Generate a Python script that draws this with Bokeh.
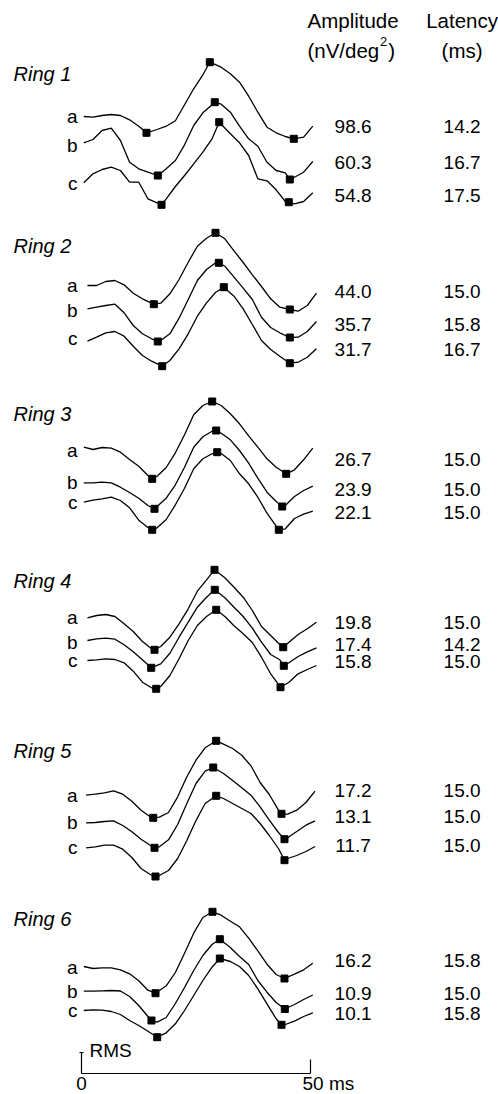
from bokeh.plotting import figure
from bokeh.models import Range1d
from bokeh.embed import file_html
from bokeh.resources import INLINE
from bokeh.core.properties import value

# ---------------- data ----------------
rings = ["Ring 1", "Ring 2", "Ring 3", "Ring 4", "Ring 5", "Ring 6"]
trace_names = ["a", "b", "c"]

amplitude = [["98.6", "60.3", "54.8"], ["44.0", "35.7", "31.7"], ["26.7", "23.9", "22.1"],
             ["19.8", "17.4", "15.8"], ["17.2", "13.1", "11.7"], ["16.2", "10.9", "10.1"]]
latency = [["14.2", "16.7", "17.5"], ["15.0", "15.8", "16.7"], ["15.0", "15.0", "15.0"],
           ["15.0", "14.2", "15.0"], ["15.0", "15.0", "15.0"], ["15.8", "15.0", "15.8"]]

# sampling: first sample time (ms) per ring, 2 ms step, 26 samples
ring_t0 = [0.5, 1.3, 0.5, 1.3, 1.0, 0.5]
step_ms = 2.0
n_samples = 26

# waveforms (vertical position on the page scale, downward)
r1a = [116.0, 116.7, 115.0, 114.0, 115.0, 119.3, 125.7, 131.5, 129.0, 125.7, 120.3, 104.3, 88.3, 74.3, 62.5, 66.7, 73.3, 81.7, 95.7, 111.7, 126.7, 132.3, 136.0, 138.0, 136.7, 125.7]
r1b = [142.3, 139.0, 130.0, 127.7, 140.0, 161.7, 168.3, 171.7, 174.7, 168.3, 160.0, 144.3, 125.0, 112.3, 104.3, 103.7, 111.7, 125.7, 138.3, 145.7, 161.7, 170.0, 172.3, 176.7, 171.7, 161.0]
r1c = [182.3, 173.3, 169.0, 166.7, 170.0, 181.7, 181.7, 198.3, 202.3, 198.3, 186.0, 175.0, 163.3, 151.7, 138.3, 122.7, 133.3, 142.3, 155.0, 178.3, 180.3, 189.3, 201.0, 203.3, 201.0, 192.3]
r2a = [285.0, 285.0, 281.0, 280.0, 284.3, 292.7, 298.3, 302.7, 302.7, 293.3, 279.0, 261.7, 245.7, 237.7, 232.3, 238.3, 250.3, 262.0, 274.3, 286.0, 298.3, 306.7, 309.0, 310.7, 305.0, 292.7]
r2b = [308.3, 306.7, 305.0, 303.7, 312.3, 325.0, 333.3, 338.3, 340.0, 333.3, 317.7, 299.0, 280.0, 269.0, 262.3, 265.7, 276.7, 287.7, 299.0, 316.7, 327.0, 332.3, 336.7, 336.7, 331.0, 321.0]
r2c = [340.7, 336.7, 332.3, 331.0, 335.7, 345.7, 355.0, 360.7, 365.0, 360.0, 348.3, 333.3, 315.7, 302.3, 291.7, 287.3, 295.7, 308.3, 324.0, 340.0, 349.0, 355.7, 362.3, 361.7, 356.7, 348.3]
r3a = [446.7, 449.0, 447.0, 447.7, 451.7, 459.0, 465.7, 475.0, 475.7, 467.0, 452.3, 434.3, 414.3, 405.0, 401.0, 405.0, 413.3, 423.3, 435.3, 446.7, 458.3, 466.7, 472.7, 469.3, 459.3, 447.7]
r3b = [482.3, 482.3, 481.7, 482.3, 486.7, 492.0, 497.7, 505.0, 507.7, 497.7, 484.3, 466.7, 446.7, 436.3, 430.7, 432.7, 439.3, 450.0, 462.7, 477.7, 491.7, 501.0, 505.0, 496.0, 490.0, 485.7]
r3c = [501.7, 499.7, 498.3, 496.7, 500.0, 507.3, 519.7, 527.0, 527.3, 519.0, 504.3, 487.7, 468.3, 458.3, 453.3, 453.0, 460.0, 473.3, 483.3, 496.7, 512.7, 525.7, 528.3, 518.0, 513.7, 510.7]
r4a = [617.3, 615.0, 614.0, 616.0, 623.3, 631.0, 641.0, 648.3, 646.0, 636.7, 623.3, 608.3, 590.7, 579.3, 570.0, 577.3, 586.7, 596.7, 610.0, 626.0, 635.0, 644.0, 641.7, 634.0, 628.3, 621.7]
r4b = [640.0, 638.3, 637.7, 638.7, 644.3, 651.3, 659.3, 667.3, 663.3, 652.7, 636.7, 621.7, 606.7, 596.7, 590.0, 597.3, 606.7, 616.0, 627.7, 641.7, 654.0, 659.3, 662.3, 656.0, 651.3, 647.3]
r4c = [660.0, 659.3, 658.3, 659.0, 662.3, 670.7, 681.7, 687.3, 686.0, 675.0, 658.3, 640.0, 625.0, 616.0, 609.3, 616.0, 625.3, 633.3, 642.0, 656.7, 673.3, 686.0, 681.7, 673.3, 669.0, 665.0]
r5a = [794.7, 793.7, 792.3, 790.3, 793.7, 800.7, 809.7, 816.3, 816.7, 812.0, 796.3, 776.3, 759.7, 747.3, 740.7, 743.7, 748.0, 754.7, 765.3, 782.0, 794.0, 809.7, 813.7, 809.7, 802.0, 790.7]
r5b = [822.3, 822.0, 821.0, 820.3, 825.0, 831.3, 838.7, 844.7, 846.3, 839.3, 824.0, 803.0, 783.0, 770.7, 767.3, 773.0, 780.0, 787.3, 794.7, 806.3, 819.7, 832.0, 837.3, 831.0, 824.7, 820.3]
r5c = [847.3, 846.3, 844.7, 844.7, 848.7, 857.0, 868.0, 874.0, 875.0, 870.0, 858.0, 840.0, 820.0, 803.0, 796.0, 798.0, 803.0, 808.0, 813.0, 823.0, 835.0, 848.0, 858.0, 855.0, 851.0, 846.0]
r6a = [966.0, 968.0, 967.3, 967.3, 969.3, 973.3, 980.3, 989.7, 992.0, 985.3, 972.0, 952.7, 932.7, 917.0, 911.3, 914.7, 920.7, 926.3, 937.7, 950.3, 963.7, 974.0, 977.7, 973.7, 969.3, 962.7]
r6b = [990.7, 990.7, 990.3, 990.0, 990.5, 996.0, 1005.0, 1016.0, 1021.7, 1017.0, 1003.0, 987.0, 970.0, 955.0, 944.0, 940.0, 947.0, 956.0, 964.0, 980.0, 991.7, 1002.0, 1008.7, 1004.0, 999.0, 994.5]
r6c = [1010.0, 1009.3, 1009.7, 1011.0, 1014.0, 1020.0, 1025.0, 1030.7, 1036.7, 1032.3, 1023.3, 1010.0, 995.0, 980.0, 966.7, 958.5, 961.0, 966.0, 975.0, 988.3, 1003.3, 1018.3, 1024.0, 1020.7, 1016.0, 1012.3]

waves = [[r1a, r1b, r1c], [r2a, r2b, r2c], [r3a, r3b, r3c],
         [r4a, r4b, r4c], [r5a, r5b, r5c], [r6a, r6b, r6c]]

# marked components (trough, peak, trough): times in ms and vertical position
marker_t = [
    [[14.19, 28.01, 46.35], [16.66, 29.10, 45.48], [17.47, 30.07, 45.26]],
    [[15.79, 29.26, 45.48], [16.66, 29.98, 45.48], [17.62, 31.07, 45.48]],
    [[15.44, 28.54, 44.69], [15.94, 29.41, 43.82], [15.44, 29.63, 43.08]],
    [[15.94, 29.04, 44.04], [15.22, 29.10, 44.17], [16.31, 29.41, 43.45]],
    [[15.66, 29.41, 43.67], [15.94, 28.76, 44.32], [16.16, 29.41, 44.32]],
    [[16.16, 28.60, 44.32], [15.28, 30.20, 44.39], [16.53, 30.20, 43.67]],
]
marker_y = [
    [[132.3, 61.7, 138.3], [175.0, 101.7, 179.0], [204.3, 121.7, 201.7]],
    [[303.7, 232.3, 309.0], [341.0, 262.3, 337.0], [365.7, 286.7, 362.7]],
    [[478.3, 401.0, 473.3], [508.3, 430.0, 506.0], [529.3, 451.7, 529.3]],
    [[649.3, 569.3, 646.7], [667.3, 589.3, 665.3], [688.3, 609.3, 686.7]],
    [[817.3, 740.3, 813.3], [847.3, 767.0, 838.7], [876.0, 795.3, 859.7]],
    [[992.7, 911.3, 978.0], [1020.0, 938.7, 1008.5], [1036.7, 958.0, 1024.3]],
]

# ---------------- layout (positions) ----------------
title_y = [73, 245, 413, 580, 750, 918]
label_y = [[116, 145, 183], [285, 310, 338], [450, 482, 502],
           [617, 642, 660], [795, 822, 847], [967, 991, 1010]]
value_y = [[126, 162, 195], [291, 324, 349], [459, 489, 512],
           [622, 644, 661], [790, 816, 845], [960, 993, 1013]]

FONT = value("Liberation Sans")
FS = "19px"
FS_HEAD = "20.5px"

p = figure(width=498, height=1094, x_range=Range1d(-17.686, 91.048), y_range=Range1d(1094, 0),
           output_backend="svg", toolbar_location=None, min_border=0)
p.axis.visible = False
p.grid.visible = False
p.outline_line_color = None
p.background_fill_color = "white"
p.border_fill_color = "white"

def txt(x, y, s, align="left", style="normal", size=FS, baseline="middle"):
    p.text(x=[x], y=[y], text=[s], text_font=FONT, text_font_size=size,
           text_align=align, text_baseline=baseline, text_color="black",
           text_font_style=style)

# header
amp_x, lat_x = 59.3, 83.1
txt(amp_x, 20, "Amplitude", "center", size=FS_HEAD)
txt(65.0, 50, "(nV/deg", "right", size=FS_HEAD)
txt(65.2, 41, "2", "left", size="13px")
txt(67.0, 50, ")", "left", size=FS_HEAD)
txt(lat_x, 20, "Latency", "center", size=FS_HEAD)
txt(lat_x, 50, "(ms)", "center", size=FS_HEAD)

for r in range(6):
    txt(-14.85, title_y[r], rings[r], "left", "italic", size="20px")
    for k in range(3):
        ys = waves[r][k]
        ts = [ring_t0[r] + step_ms * i for i in range(n_samples)]
        mt, my = marker_t[r][k], marker_y[r][k]
        pts = [(t, y) for t, y in zip(ts, ys) if all(abs(t - m) > 0.6 for m in mt)]
        pts += list(zip(mt, my))
        pts.sort()
        p.line([q[0] for q in pts], [q[1] for q in pts], line_color="black", line_width=1.3)
        p.scatter(mt, my, marker="square", size=7, color="black")
        txt(-0.87, label_y[r][k], trace_names[k], "right")
        txt(amp_x, value_y[r][k], amplitude[r][k], "center")
        txt(lat_x, value_y[r][k], latency[r][k], "center")

# calibration bar
scale_ms = [0, 50]
bar_y = 1073
rms_top = 1052
p.line(scale_ms, [bar_y, bar_y], line_color="black", line_width=1.2)
p.line([0, 0], [rms_top, bar_y], line_color="black", line_width=1.2)
p.line([-0.45, 0.45], [rms_top, rms_top], line_color="black", line_width=1.2)
p.line([50, 50], [1059, bar_y], line_color="black", line_width=1.2)
txt(1.75, 1050, "RMS", "left")
txt(0, 1083, "0", "center")
txt(48.25, 1083, "50 ms", "left")

open("out.html", "w").write(file_html(p, INLINE))
